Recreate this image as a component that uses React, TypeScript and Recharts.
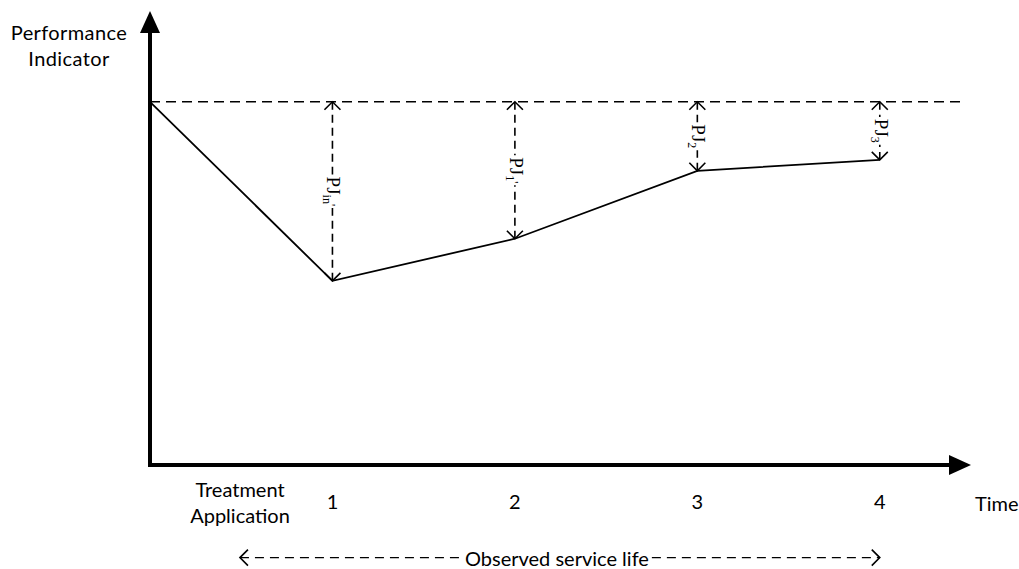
import { LineChart, Line, XAxis, YAxis, ReferenceLine } from 'recharts';

// time steps after treatment and the indicator value
const times = [0, 1, 2, 3, 4];
const indicator = [100, 50.7, 62.3, 81, 84];
const tickLabels = ['Treatment Application', '1', '2', '3', '4'];
const gapLabels = ['in', '1', '2', '3'];
const primes = [true, true, false, false];
const baseline = 100;
const lifeStart = 0.493;
const lifeLevel = -25.5;

const data = times.map((t, i) => ({ t, v: indicator[i] }));

const SANS = 'Lato, "Open Sans", sans-serif';
const SERIF = '"Liberation Serif", "Times New Roman", serif';

let ctx: CanvasRenderingContext2D | null = null;
function textWidth(text: string, font: string) {
  if (!ctx) ctx = document.createElement('canvas').getContext('2d');
  if (!ctx) return text.length * 9;
  ctx.font = font;
  return ctx.measureText(text).width;
}

function ArrowAxis(props: any) {
  const { x1, y1, x2, y2 } = props;
  const horizontal = Math.abs(y2 - y1) < 1;
  if (horizontal) {
    const tip = Math.max(x1, x2);
    const start = Math.min(x1, x2);
    return (
      <g>
        <line x1={start - 2} y1={y1} x2={tip - 18} y2={y1} stroke="#000" strokeWidth={4} />
        <polygon points={`${tip},${y1} ${tip - 22},${y1 - 10} ${tip - 22},${y1 + 10}`} fill="#000" />
      </g>
    );
  }
  const tip = Math.min(y1, y2);
  const start = Math.max(y1, y2);
  return (
    <g>
      <line x1={x1} y1={start + 2} x2={x1} y2={tip + 18} stroke="#000" strokeWidth={4} />
      <polygon points={`${x1},${tip} ${x1 - 10},${tip + 22} ${x1 + 10},${tip + 22}`} fill="#000" />
    </g>
  );
}

function openHead(x: number, y: number, dx: number, dy: number, key: string) {
  // dx, dy = unit direction the arrow points to
  const s = 8;
  const px = -dy, py = dx;
  return (
    <polyline
      key={key}
      points={`${x - dx * s + px * s},${y - dy * s + py * s} ${x},${y} ${x - dx * s - px * s},${y - dy * s - py * s}`}
      fill="none"
      stroke="#000"
      strokeWidth={1.6}
    />
  );
}

function makeGap(i: number) {
  return (props: any) => {
    const { x1, y1, y2 } = props;
    const top = Math.min(y1, y2);
    const bot = Math.max(y1, y2);
    const mid = (top + bot) / 2;
    const len =
      textWidth('PJ', `19px ${SERIF}`) +
      textWidth(gapLabels[i] + (primes[i] ? "'" : ''), `12px ${SERIF}`);
    const g0 = mid - len / 2 - 2;
    const g1 = mid + len / 2 + 2;
    return (
      <g>
        <line x1={x1} y1={top} x2={x1} y2={g0} stroke="#000" strokeWidth={1.6} strokeDasharray="8 5" />
        <line x1={x1} y1={bot} x2={x1} y2={g1} stroke="#000" strokeWidth={1.6} strokeDasharray="8 5" />
        {openHead(x1, top, 0, -1, 'a')}
        {openHead(x1, bot, 0, 1, 'b')}
        <text
          transform={`translate(${x1 - 5},${mid}) rotate(90)`}
          textAnchor="middle"
          fontFamily={SERIF}
          fontSize={19}
          fill="#000"
        >
          PJ
          <tspan fontSize={12} dy={4}>{gapLabels[i]}</tspan>
          {primes[i] ? <tspan fontSize={12} dy={-4}>'</tspan> : null}
        </text>
      </g>
    );
  };
}

function ServiceLife(props: any) {
  const { x1, y1, x2 } = props;
  const left = Math.min(x1, x2);
  const right = Math.max(x1, x2);
  const label = 'Observed service life';
  const tx0 = 465;
  const tx1 = tx0 + textWidth(label, `20px ${SANS}`);
  return (
    <g>
      <line x1={left} y1={y1} x2={tx0 - 3} y2={y1} stroke="#000" strokeWidth={1.3} strokeDasharray="9 6" />
      <line x1={tx1 + 3} y1={y1} x2={right} y2={y1} stroke="#000" strokeWidth={1.3} strokeDasharray="9 6" />
      {openHead(left, y1, -1, 0, 'l')}
      {openHead(right, y1, 1, 0, 'r')}
      <text x={tx0} y={y1 + 8} textAnchor="start" fontFamily={SANS} fontSize={20} fill="#000">
        {label}
      </text>
    </g>
  );
}

function TimeTick(props: any) {
  const { x, y, payload, index } = props;
  const label = tickLabels[index];
  if (index === 0) {
    const words = label.split(' ');
    return (
      <g>
        <text x={x + 90} y={y + 32} textAnchor="middle" fontFamily={SANS} fontSize={20} fill="#000">
          {words[0]}
        </text>
        <text x={x + 90} y={y + 58} textAnchor="middle" fontFamily={SANS} fontSize={20} fill="#000">
          {words[1]}
        </text>
      </g>
    );
  }
  return (
    <text x={x} y={y + 44} textAnchor="middle" fontFamily={SANS} fontSize={20} fill="#000">
      {label ?? payload.value}
    </text>
  );
}

export default function App() {
  return (
    <div style={{ position: 'absolute', left: 0, top: 0, width: 1019, height: 569, background: '#fff' }}>
      <div
        style={{
          position: 'absolute',
          left: 0,
          top: 19,
          width: 138,
          textAlign: 'center',
          fontFamily: SANS,
          fontSize: 20,
          letterSpacing: 0.4,
          lineHeight: '26px',
          color: '#000',
        }}
      >
        Performance
        <br />
        Indicator
      </div>
      <div
        style={{ position: 'absolute', left: 975, top: 491, fontFamily: SANS, fontSize: 20, color: '#000' }}
      >
        Time
      </div>
      <LineChart width={1019} height={569} data={data} margin={{ top: 11, right: 48, left: 150, bottom: 0 }}>
        <XAxis
          dataKey="t"
          type="number"
          domain={[0, 4.5]}
          ticks={times}
          axisLine={false}
          tickLine={false}
          tickSize={0}
          tickMargin={0}
          tick={<TimeTick />}
          height={104}
          interval={0}
        />
        <YAxis type="number" domain={[0, 125]} hide width={0} />
        <ReferenceLine
          segment={[{ x: 0, y: baseline }, { x: 4.47, y: baseline }]}
          stroke="#000"
          strokeWidth={1.6}
          strokeDasharray="10 6"
        />
        <ReferenceLine segment={[{ x: 0, y: 0 }, { x: 4.5, y: 0 }]} shape={ArrowAxis} ifOverflow="visible" />
        <ReferenceLine segment={[{ x: 0, y: 0 }, { x: 0, y: 125 }]} shape={ArrowAxis} ifOverflow="visible" />
        {times.slice(1).map((t, i) => (
          <ReferenceLine
            key={t}
            segment={[{ x: t, y: baseline }, { x: t, y: indicator[i + 1] }]}
            shape={makeGap(i)}
          />
        ))}
        <ReferenceLine
          segment={[{ x: lifeStart, y: lifeLevel }, { x: 4, y: lifeLevel }]}
          shape={ServiceLife}
          ifOverflow="visible"
        />
        <Line
          dataKey="v"
          type="linear"
          stroke="#000"
          strokeWidth={1.8}
          dot={false}
          activeDot={false}
          isAnimationActive={false}
        />
      </LineChart>
    </div>
  );
}
